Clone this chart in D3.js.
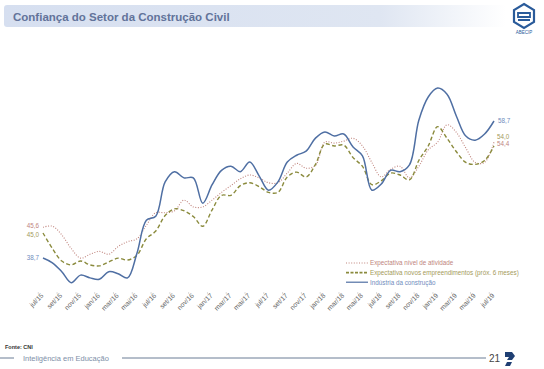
<!DOCTYPE html>
<html><head><meta charset="utf-8">
<script src="https://cdn.jsdelivr.net/npm/d3@7"></script>
<style>body{margin:0;background:#fff}svg{display:block;font-family:"Liberation Sans",Arial,sans-serif}</style>
</head><body><svg id="c" width="544" height="369"></svg>
<script>
const months = ["jul/15","ago/15","set/15","out/15","nov/15","dez/15","jan/16","fev/16","mar/16","abr/16","mai/16","jun/16",
"jul/16","ago/16","set/16","out/16","nov/16","dez/16","jan/17","fev/17","mar/17","abr/17","mai/17","jun/17",
"jul/17","ago/17","set/17","out/17","nov/17","dez/17","jan/18","fev/18","mar/18","abr/18","mai/18","jun/18",
"jul/18","ago/18","set/18","out/18","nov/18","dez/18","jan/19","fev/19","mar/19","abr/19","mai/19","jun/19","jul/19"];
const industria = [38.7,38.0,36.7,35.1,36.2,35.8,35.6,36.7,36.4,35.8,39.4,44.2,44.8,49.8,51.3,50.4,50.4,46.7,49.4,51.5,52.1,51.3,52.7,50.7,
48.6,49.8,52.7,53.7,54.3,56.2,57.1,56.5,56.8,54.9,53.6,48.6,49.5,51.5,51.3,52.3,58.8,62.2,63.5,62.6,59.4,56.5,55.9,56.8,58.7];
const novosEmpreend = [45.0,43.4,42.1,41.7,42.1,41.7,41.6,42.0,42.4,42.2,42.7,44.4,45.2,46.8,47.5,47.3,46.7,45.7,47.4,48.9,48.9,49.9,50.2,49.8,
49.2,49.2,50.8,51.3,50.8,52.1,54.2,54.0,54.1,52.8,51.9,50.0,50.4,51.2,51.0,50.5,52.5,54.0,56.0,54.8,53.4,52.3,52.1,52.5,54.0];
const nivelAtividade = [45.6,45.7,44.8,43.4,42.4,42.8,43.1,42.8,43.6,44.1,44.4,45.8,47.1,47.1,47.3,48.4,47.7,47.7,48.4,49.2,49.9,50.6,51.0,50.7,
50.2,50.2,51.2,52.2,51.7,52.0,54.4,54.3,54.5,54.8,54.0,52.3,50.8,51.6,51.9,50.7,51.9,53.6,54.4,56.2,55.4,53.8,52.3,52.3,54.4];
const seriesNames = ["Expectativa nível de atividade","Expectativa novos empreendimentos (próx. 6 meses)","Indústria da construção"];
const title = "Confiança do Setor da Construção Civil";

const svg = d3.select("#c");
const defs = svg.append("defs");
const g1 = defs.append("linearGradient").attr("id","tb");
g1.append("stop").attr("offset","0").attr("stop-color","#d6dff0");
g1.append("stop").attr("offset","0.75").attr("stop-color","#dfe6f2");
g1.append("stop").attr("offset","1").attr("stop-color","#ffffff");
svg.append("rect").attr("x",4).attr("y",5).attr("width",502).attr("height",22).attr("rx",3).attr("fill","url(#tb)");
svg.append("text").attr("x",13).attr("y",20.5).attr("font-size",11.5).attr("font-weight","bold").attr("fill","#62739a").text(title);
const lg = svg.append("g").attr("transform","translate(524,16)");
lg.append("path").attr("d","M0,-12 L10,-6 L10,6 L0,12 L-10,6 L-10,-6Z").attr("fill","none").attr("stroke","#2a5b9a").attr("stroke-width",2.2);
lg.append("path").attr("d","M-6,-3 L6,-3 L6,1 L-6,1Z M-6,4 L6,4").attr("fill","none").attr("stroke","#2a5b9a").attr("stroke-width",1.8);
svg.append("text").attr("x",524).attr("y",34).attr("text-anchor","middle").attr("font-size",4.5).attr("fill","#2a5b9a").text("ABECIP");

const x = d3.scalePoint().domain(months).range([43,494]);
const yL = d3.scaleLinear().domain([38.7,58.7]).range([258,121]);
const yR = d3.scaleLinear().domain([45,54]).range([233,146]);

const ax = svg.append("g");
months.forEach((m,i)=>{
  if(i%2===0){
    const xx = x(m);
    ax.append("line").attr("x1",xx-4.7).attr("x2",xx-4.7).attr("y1",292).attr("y2",294).attr("stroke","#ccc").attr("stroke-width",0.7);
    ax.append("text").attr("transform",`translate(${xx+1},${296}) rotate(-45)`).attr("text-anchor","end").attr("font-size",6.8).attr("fill","#666").text(m);
  }
});

const curve = d3.curveCatmullRom.alpha(0.5);
const lineL = d3.line().x((d,i)=>x(months[i])).y(d=>yL(d)).curve(curve);
const lineR = d3.line().x((d,i)=>x(months[i])).y(d=>yR(d)).curve(curve);

const cRed="#c0857e", cOl="#8a8a3c", cBlue="#4f6fa3";
svg.append("path").attr("d",lineR(nivelAtividade)).attr("fill","none").attr("stroke",cRed).attr("stroke-width",1.1).attr("stroke-dasharray","1,1.6");
svg.append("path").attr("d",lineR(novosEmpreend)).attr("fill","none").attr("stroke",cOl).attr("stroke-width",1.4).attr("stroke-dasharray","4,2.5");
svg.append("path").attr("d",lineL(industria)).attr("fill","none").attr("stroke",cBlue).attr("stroke-width",1.5);

const fmt = v=>d3.format(".1f")(v).replace(".",",");
const lab = (tx,ty,t,c,anchor)=>svg.append("text").attr("x",tx).attr("y",ty).attr("font-size",6.3).attr("fill",c).attr("text-anchor",anchor).text(t);
lab(x(months[0])-4,yR(nivelAtividade[0])+0.5,fmt(nivelAtividade[0]),"#c0857e","end");
lab(x(months[0])-4,yR(novosEmpreend[0])+4,fmt(novosEmpreend[0]),"#a49a5a","end");
lab(x(months[0])-4,yL(industria[0])+2,fmt(industria[0]),"#6f8cbd","end");
const last = months.length-1;
lab(x(months[last])+4,yL(industria[last])+2,fmt(industria[last]),"#6f8cbd","start");
lab(x(months[last])+3,yR(novosEmpreend[last])-7,fmt(novosEmpreend[last]),"#a49a5a","start");
lab(x(months[last])+3,yR(nivelAtividade[last])+4,fmt(nivelAtividade[last]),"#c0857e","start");

const leg = svg.append("g");
const legStyles = [[cRed,1.1,"1,1.6","#c0857e"],[cOl,1.6,"3,1.5","#a49a5a"],[cBlue,1.2,null,"#6f8cbd"]];
seriesNames.forEach((n,i)=>{
  const ly = 263 + i*9.6;
  const s = legStyles[i];
  leg.append("line").attr("x1",346).attr("x2",368).attr("y1",ly).attr("y2",ly).attr("stroke",s[0]).attr("stroke-width",s[1]).attr("stroke-dasharray",s[2]);
  leg.append("text").attr("x",370).attr("y",ly+2.3).attr("font-size",6.3).attr("fill",s[3]).text(n);
});

svg.append("text").attr("x",5).attr("y",349).attr("font-size",5.5).attr("font-weight","bold").attr("fill","#333").text("Fonte: CNI");
svg.append("line").attr("x1",0).attr("x2",14).attr("y1",358).attr("y2",358).attr("stroke","#6b7c95").attr("stroke-width",1);
svg.append("text").attr("x",23).attr("y",360.5).attr("font-size",7.5).attr("fill","#8090a8").text("Inteligência em Educação");
svg.append("line").attr("x1",122).attr("x2",486).attr("y1",358).attr("y2",358).attr("stroke","#6b7c95").attr("stroke-width",1);
svg.append("text").attr("x",489).attr("y",362).attr("font-size",10).attr("fill","#444").text("21");
svg.append("path").attr("d","M505,352 L512,352 L515,356 L512,360 L507,360 L509,357 L505,357 Z M507,362 L512,362 L510,366 L505,366Z").attr("fill","#1f3f73");
</script></body></html>
